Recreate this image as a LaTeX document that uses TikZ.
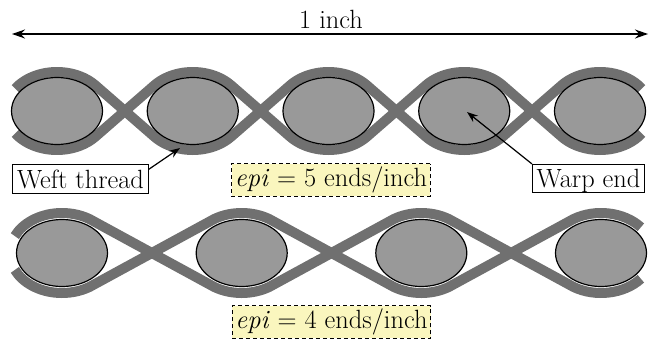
\documentclass[tikz,border=0pt]{standalone}
\usetikzlibrary{shapes,calc,arrows.meta,backgrounds}
\definecolor{weftgray}{RGB}{112,112,112}
\definecolor{warpgray}{RGB}{153,153,153}
\definecolor{epiyellow}{RGB}{250,246,190}

\begin{document}
\begin{tikzpicture}[x=1pt,y=1pt,font=\Huge,
        warp/.style={ellipse,draw,line width=1.2pt,fill=warpgray,minimum width=91pt,minimum height=67pt,inner sep=0pt},
        weft/.style={draw=weftgray,line width=10pt},
        callout/.style={rectangle,draw,line width=1pt,fill=white,scale=1.06,inner xsep=4pt,inner ysep=3.8pt,text height=18pt,text depth=1pt},
        epibox/.style={rectangle,draw,dash pattern=on 4pt off 3pt,line width=1.1pt,fill=epiyellow,scale=1.06,inner xsep=3pt,inner ysep=3.8pt,text height=18pt,text depth=5.5pt},
        pointer/.style={-{Stealth[length=11pt,width=8pt]},line width=1.2pt},
        dim/.style={{Stealth[length=13pt,width=9pt]}-{Stealth[length=13pt,width=9pt]},line width=1.2pt}]
        \useasboundingbox (0,0) rectangle (650,341);

        \coordinate (inchL) at (12,307);
        \coordinate (inchR) at (648,307);
        \draw[dim] (inchL) -- (inchR);
        \node[anchor=base,scale=1.06] (inchlbl) at (331,313) {1 inch};

        \node[warp] (a1) at (57,230) {};
        \node[warp] (a2) at (192.75,230) {};
        \node[warp] (a3) at (328.5,230) {};
        \node[warp] (a4) at (464.25,230) {};
        \node[warp] (a5) at (600,230) {};

        \node[warp] (b1) at (62,88) {};
        \node[warp] (b2) at (241.7,88) {};
        \node[warp] (b3) at (421.3,88) {};
        \node[warp] (b4) at (601,88) {};

        \begin{scope}[on background layer]
            \draw[weft,x radius=51pt,y radius=39pt]
                ($(a1)+(145:51pt and 39pt)$) arc[start angle=145,end angle=41.4]
                -- ($(a2)+(221.4:51pt and 39pt)$) arc[start angle=221.4,end angle=318.6]
                -- ($(a3)+(138.6:51pt and 39pt)$) arc[start angle=138.6,end angle=41.4]
                -- ($(a4)+(221.4:51pt and 39pt)$) arc[start angle=221.4,end angle=318.6]
                -- ($(a5)+(138.6:51pt and 39pt)$) arc[start angle=138.6,end angle=35];
            \draw[weft,x radius=51pt,y radius=39pt]
                ($(a1)+(215:51pt and 39pt)$) arc[start angle=215,end angle=318.6]
                -- ($(a2)+(138.6:51pt and 39pt)$) arc[start angle=138.6,end angle=41.4]
                -- ($(a3)+(221.4:51pt and 39pt)$) arc[start angle=221.4,end angle=318.6]
                -- ($(a4)+(138.6:51pt and 39pt)$) arc[start angle=138.6,end angle=41.4]
                -- ($(a5)+(221.4:51pt and 39pt)$) arc[start angle=221.4,end angle=325];
            \draw[weft,x radius=52pt,y radius=40pt]
                ($(b1)+(155:52pt and 40pt)$) arc[start angle=155,end angle=58]
                -- ($(b2)+(238:52pt and 40pt)$) arc[start angle=238,end angle=302]
                -- ($(b3)+(122:52pt and 40pt)$) arc[start angle=122,end angle=58]
                -- ($(b4)+(238:52pt and 40pt)$) arc[start angle=238,end angle=320];
            \draw[weft,x radius=52pt,y radius=40pt]
                ($(b1)+(205:52pt and 40pt)$) arc[start angle=205,end angle=302]
                -- ($(b2)+(122:52pt and 40pt)$) arc[start angle=122,end angle=58]
                -- ($(b3)+(238:52pt and 40pt)$) arc[start angle=238,end angle=302]
                -- ($(b4)+(122:52pt and 40pt)$) arc[start angle=122,end angle=40];
        \end{scope}

        \node[callout] (weftlbl) at (80.5,162) {Weft thread};
        \node[callout] (warplbl) at (588.5,162.5) {Warp end};
        \node[epibox] (epifive) at (331,161) {\textit{epi} = 5 ends/inch};
        \node[epibox] (epifour) at (331.5,19) {\textit{epi} = 4 ends/inch};

        \coordinate (weftpt) at (180,193);
        \coordinate (warppt) at (467,229);
        \draw[pointer] ([yshift=-5pt]weftlbl.north east) -- (weftpt);
        \draw[pointer] (warplbl.north west) -- (warppt);
\end{tikzpicture}
\end{document}
